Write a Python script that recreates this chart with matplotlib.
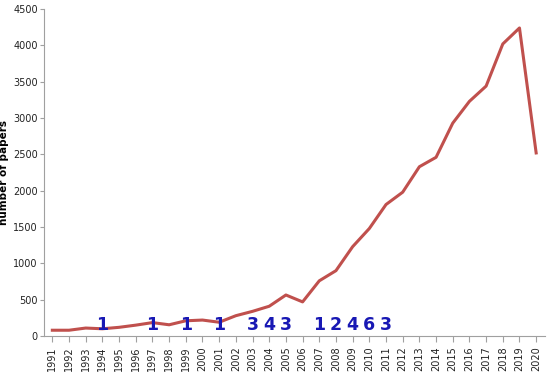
import matplotlib
matplotlib.use("Agg")
import matplotlib.pyplot as plt

# =============================================================================
# Data
# =============================================================================

years = list(range(1991, 2021))
papers = [80, 80, 110, 100, 120, 150, 185, 155, 210, 220,
          190, 280, 340, 410, 565, 470, 760, 900, 1230, 1480,
          1810, 1980, 2330, 2460, 2930, 3230, 3440, 4020, 4240, 2520]

note_years = [1994, 1997, 1999, 2001, 2003, 2004, 2005,
              2007, 2008, 2009, 2010, 2011]
note_counts = [1, 1, 1, 1, 3, 4, 3, 1, 2, 4, 6, 3]
note_level = 150

# =============================================================================
# Plot
# =============================================================================

fig = plt.figure(figsize=(5.5, 3.78), dpi=100)
ax = fig.add_axes([0.08, 0.111, 0.91, 0.865])

ax.plot(years, papers, color="#c0504d", linewidth=2.2)

for yr, n in zip(note_years, note_counts):
    ax.text(yr, note_level, str(n), ha="center", va="center",
            fontsize=12.5, fontweight="bold", color="#1818b4")

ax.set_xlim(1990.5, 2020.5)
ax.set_ylim(0, 4500)
ax.set_xticks(years)
ax.set_xticklabels([str(y) for y in years], rotation=90, fontsize=7)
ax.set_yticks(range(0, 4501, 500))
ax.tick_params(axis="y", labelsize=7, length=3, pad=1.5,
               color="#a0a0a0", labelcolor="#222222")
ax.tick_params(axis="x", length=4, color="#a0a0a0", labelcolor="#222222")
ax.set_ylabel("number of papers", fontsize=7.5, fontweight="bold")
ax.yaxis.set_label_coords(-0.07, 0.5)

for side in ("top", "right"):
    ax.spines[side].set_visible(False)
for side in ("left", "bottom"):
    ax.spines[side].set_color("#a0a0a0")

fig.savefig("out.png", dpi=100)
